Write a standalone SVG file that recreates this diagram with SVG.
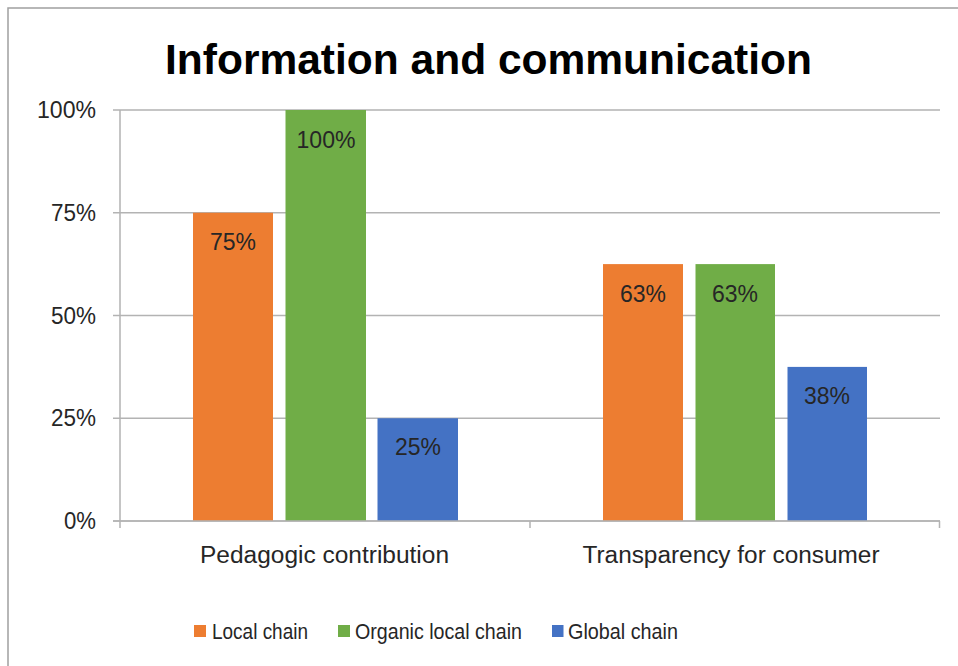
<svg xmlns="http://www.w3.org/2000/svg" width="958" height="666" viewBox="0 0 958 666">
<style>
.t{font-family:"Liberation Sans",Arial,sans-serif;fill:#262626}
.ax{font-size:23px;text-anchor:end}
.dl{font-size:23px;text-anchor:middle}
.cat{font-size:23px;text-anchor:middle}
.lg{font-size:22.5px}
.grid{stroke:#b3b3b3;stroke-width:1.5;fill:none}
.o{fill:#ED7D31}.g{fill:#70AD47}.b{fill:#4472C4}
</style>
<rect x="0" y="0" width="958" height="666" fill="#ffffff"/>
<rect x="8" y="8" width="1000" height="700" fill="none" stroke="#a0a0a0" stroke-width="1.5"/>
<text id="title" x="488.5" y="74" text-anchor="middle" textLength="647" lengthAdjust="spacingAndGlyphs" style="font-family:'Liberation Sans',Arial,sans-serif;font-weight:bold;font-size:42.5px;fill:#000">Information and communication</text>
<g id="gridlines">
<path class="grid" d="M113 110H940M113 212.75H940M113 315.5H940M113 418.25H940M113 521H940M120 110V528M530 521V528M939.5 521V528"/>
</g>
<g id="axis-labels">
<text class="t ax" x="96" y="118" textLength="59" lengthAdjust="spacingAndGlyphs">100%</text>
<text class="t ax" x="96" y="220.5" textLength="45" lengthAdjust="spacingAndGlyphs">75%</text>
<text class="t ax" x="96" y="323.5" textLength="45" lengthAdjust="spacingAndGlyphs">50%</text>
<text class="t ax" x="96" y="426" textLength="45" lengthAdjust="spacingAndGlyphs">25%</text>
<text class="t ax" x="96" y="529" textLength="32" lengthAdjust="spacingAndGlyphs">0%</text>
</g>
<g id="series-local">
<rect class="o" x="193" y="212.75" width="80" height="308.25"/>
<rect class="o" x="603" y="264.1" width="80" height="256.9"/>
<text class="t dl" x="233" y="250" textLength="46" lengthAdjust="spacingAndGlyphs">75%</text>
<text class="t dl" x="643" y="301.5" textLength="46" lengthAdjust="spacingAndGlyphs">63%</text>
</g>
<g id="series-organic">
<rect class="g" x="285.5" y="110" width="80.5" height="411"/>
<rect class="g" x="695.5" y="264.1" width="79.5" height="256.9"/>
<text class="t dl" x="326" y="147.5" textLength="59" lengthAdjust="spacingAndGlyphs">100%</text>
<text class="t dl" x="735" y="301.5" textLength="46" lengthAdjust="spacingAndGlyphs">63%</text>
</g>
<g id="series-global">
<rect class="b" x="377.5" y="418.25" width="80.5" height="102.75"/>
<rect class="b" x="787.5" y="366.9" width="79.5" height="154.1"/>
<text class="t dl" x="418" y="455" textLength="46" lengthAdjust="spacingAndGlyphs">25%</text>
<text class="t dl" x="827" y="404" textLength="46" lengthAdjust="spacingAndGlyphs">38%</text>
</g>
<g id="axis-line">
<path d="M113 521H940" stroke="#b3b3b3" stroke-width="1.5" fill="none"/>
</g>
<g id="categories">
<text class="t cat" x="324.5" y="563" textLength="249" lengthAdjust="spacingAndGlyphs">Pedagogic contribution</text>
<text class="t cat" x="731" y="563" textLength="297" lengthAdjust="spacingAndGlyphs">Transparency for consumer</text>
</g>
<g id="legend">
<rect class="o" x="194" y="625" width="12" height="12"/>
<text class="t lg" x="212" y="639" textLength="96" lengthAdjust="spacingAndGlyphs">Local chain</text>
<rect class="g" x="338" y="625" width="12" height="12"/>
<text class="t lg" x="355" y="639" textLength="167" lengthAdjust="spacingAndGlyphs">Organic local chain</text>
<rect class="b" x="552" y="625" width="11.5" height="12"/>
<text class="t lg" x="568" y="639" textLength="110" lengthAdjust="spacingAndGlyphs">Global chain</text>
</g>
</svg>
